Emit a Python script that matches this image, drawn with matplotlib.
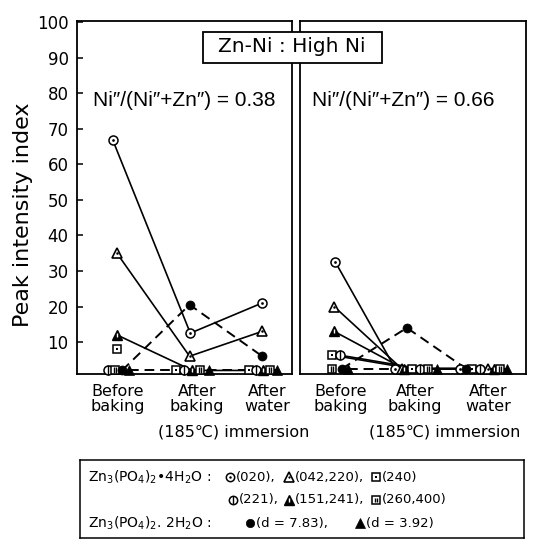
import matplotlib
matplotlib.use('Agg')
import matplotlib.pyplot as plt
from matplotlib.path import Path
from matplotlib.patches import Rectangle

W, H = 544, 540

stages = ['Before\nbaking', 'After\nbaking', 'After\nwater']
stage_note = '(185℃) immersion'
ratios = [0.38, 0.66]
y_ticks = [10, 20, 30, 40, 50, 60, 70, 80, 90, 100]

# peak intensity index, Ni/(Ni+Zn) = 0.38
low_020 = [67, 12.5, 21]
low_042 = [35, 6, 13]
low_240 = [8, 2, 2]
low_221 = [2, 2, 2]
low_151 = [12, 2, 2]
low_260 = [2, 2, 2]
low_d783 = [2, 20.5, 6]
low_d392 = [2, 2, 2]

# Ni/(Ni+Zn) = 0.66
high_020 = [32.5, 2.5, 2.5]
high_042 = [20, 2.5, 2.5]
high_240 = [6.3, 2.5, 2.5]
high_221 = [6.3, 2.5, 2.5]
high_151 = [13, 2.5, 2.5]
high_260 = [2.5, 2.5, 2.5]
high_d783 = [2.5, 14, 2.5]
high_d392 = [2.5, 2.5, 2.5]

keys = ['020', '042', '240', '221', '151', '260', 'd783', 'd392']
low = dict(zip(keys, [low_020, low_042, low_240, low_221, low_151, low_260, low_d783, low_d392]))
high = dict(zip(keys, [high_020, high_042, high_240, high_221, high_151, high_260, high_d783, high_d392]))

# marker glyph for each reflection
kinds = {'020': 'o_dot', '042': 'tri_dot', '240': 'sq_dot', '221': 'o_bar',
         '151': 'tri_bar', '260': 'sq_bars', 'd783': 'dot', 'd392': 'tri'}

# line style per panel (None = no connecting line)
low_ls = {'020': '-', '042': '-', '240': None, '221': None, '151': '-', '260': None,
          'd783': 'dash', 'd392': 'dash'}
high_ls = {'020': '-', '042': '-', '240': '-', '221': '-', '151': '-', '260': None,
           'd783': 'dash', 'd392': 'dash'}

# small horizontal shifts so the crowded markers sit side by side
low_dx = {'020': [-0.06, 0.01, 0.0], '042': [0, 0, 0], '240': [0, -0.19, -0.18],
          '221': [-0.12, -0.08, -0.08], '151': [0, 0.04, 0.01], '260': [-0.03, 0.15, 0.11],
          'd783': [0.07, 0, 0], 'd392': [0.17, 0.27, 0.21]}
high_dx = {'020': [0.02, -0.05, -0.05], '042': [0, 0.05, 0.39], '240': [-0.03, 0.21, 0.14],
           '221': [0.09, 0.33, 0.26], '151': [0, 0.08, 0.48], '260': [-0.03, 0.46, 0.57],
           'd783': [0.12, 0.13, 0.05], 'd392': [0.22, 0.6, 0.68]}

BARS = Path([(-0.45, -1), (-0.45, 1), (0.45, -1), (0.45, 1)],
            [Path.MOVETO, Path.LINETO, Path.MOVETO, Path.LINETO])


def draw_marker(ax, x, y, kind, ms=6.5):
    base = dict(linestyle='none', clip_on=False, zorder=5)
    if kind in ('o_dot', 'o_bar'):
        ax.plot(x, y, marker='o', ms=ms, mfc='white', mec='black', mew=1.1, **base)
        if kind == 'o_dot':
            ax.plot(x, y, marker='o', ms=ms * 0.3, mfc='black', mec='black', mew=0, **base)
        else:
            ax.plot(x, y, marker='|', ms=ms, color='black', mew=1.0, **base)
    elif kind in ('sq_dot', 'sq_bars'):
        ax.plot(x, y, marker='s', ms=ms * 0.95, mfc='white', mec='black', mew=1.1, **base)
        if kind == 'sq_dot':
            ax.plot(x, y, marker='s', ms=ms * 0.3, mfc='black', mec='black', mew=0, **base)
        else:
            ax.plot(x, y, marker=BARS, ms=ms * 0.6, color='black', mew=1.0, **base)
    elif kind == 'tri_dot':
        ax.plot(x, y, marker='^', ms=ms * 1.15, mfc='white', mec='black', mew=1.2, **base)
        ax.plot(x, y, marker='o', ms=ms * 0.28, mfc='black', mec='black', mew=0, **base)
    elif kind == 'tri_bar':
        ax.plot(x, y, marker='^', ms=ms * 1.15, mfc='black', mec='black', mew=1.0, **base)
        ax.plot(x, y, marker='|', ms=ms * 0.45, color='white', mew=1.0, **base)
    elif kind == 'dot':
        ax.plot(x, y, marker='o', ms=ms, mfc='black', mec='black', mew=0.5, **base)
    elif kind == 'tri':
        ax.plot(x, y, marker='^', ms=ms * 1.1, mfc='black', mec='black', mew=0.5, **base)


def fx(px):
    return px / W


def fy(py):
    return 1 - py / H


fig = plt.figure(figsize=(W / 100, H / 100), dpi=100)

ax_l = fig.add_axes([fx(77), fy(374), fx(292) - fx(77), fy(21) - fy(374)])
ax_r = fig.add_axes([fx(300), fy(374), fx(526) - fx(300), fy(21) - fy(374)])

panels = [(ax_l, low, low_ls, low_dx, (-0.55, 2.41), 0.5),
          (ax_r, high, high_ls, high_dx, (-0.53, 2.98), 0.456)]

for (ax, vals, ls, dx, xl, tx), ratio in zip(panels, ratios):
    for k in keys:
        xs = [i + d for i, d in enumerate(dx[k])]
        if ls[k] == '-':
            ax.plot(xs, vals[k], color='black', lw=1.2, zorder=3)
        elif ls[k] == 'dash':
            ax.plot(xs, vals[k], color='black', lw=1.4, linestyle=(0, (5, 3)), zorder=3)
        for x, y in zip(xs, vals[k]):
            draw_marker(ax, x, y, kinds[k])
    ax.set_xlim(*xl)
    ax.set_ylim(1, 100.4)
    ax.set_xticks([])
    for s in ax.spines.values():
        s.set_linewidth(1.3)
    ax.text(tx, 0.776, 'Ni″/(Ni″+Zn″) = %.2f' % ratio,
            transform=ax.transAxes, ha='center', va='center', fontsize=15,
            family=['Liberation Sans', 'DejaVu Sans'])

ax_l.set_yticks(y_ticks)
ax_l.tick_params(axis='y', direction='in', length=4, width=1.1, labelsize=12, pad=6)
ax_r.set_yticks([])

fig.text(fx(23), fy(215), 'Peak intensity index', rotation=90, ha='center', va='center',
         fontsize=16)

# panel title box
fig.add_artist(Rectangle((fx(203), fy(63)), fx(382) - fx(203), fy(32) - fy(63),
                         transform=fig.transFigure, fc='white', ec='black', lw=1.3, zorder=8))
fig.text(fx(292), fy(47), 'Zn-Ni : High Ni', ha='center', va='center', fontsize=14.5, zorder=9)

# stage labels under each panel
for cx in ([118, 197, 267], [341, 415, 488]):
    for x, lab in zip(cx, stages):
        fig.text(fx(x), fy(399), lab, ha='center', va='center', fontsize=11.5, linespacing=0.95)
fig.text(fx(234), fy(432), stage_note, ha='center', va='center', fontsize=11.5)
fig.text(fx(445), fy(432), stage_note, ha='center', va='center', fontsize=11.5)

# key box
lax = fig.add_axes([fx(80), fy(538), fx(524) - fx(80), fy(460) - fy(538)])
lax.set_xlim(80, 524)
lax.set_ylim(538, 460)
lax.set_xticks([])
lax.set_yticks([])
for s in lax.spines.values():
    s.set_linewidth(1.1)

key_rows = [
    (477, r'Zn$_3$(PO$_4$)$_2$•4H$_2$O :', [(230, '020', '(020),'), (289, '042', '(042,220),'),
                                          (376, '240', '(240)')]),
    (500, None, [(233, '221', '(221),'), (289, '151', '(151,241),'), (376, '260', '(260,400)')]),
    (523, r'Zn$_3$(PO$_4$)$_2$. 2H$_2$O :', [(250, 'd783', '(d = 7.83),'),
                                            (360, 'd392', '(d = 3.92)')]),
]
for y, head, items in key_rows:
    if head:
        lax.text(88, y, head, ha='left', va='center', fontsize=10)
    for x, k, lab in items:
        draw_marker(lax, x, y, kinds[k], ms=6)
        lax.text(x + 6, y, lab, ha='left', va='center', fontsize=9.5)

fig.savefig('out.png', dpi=100)
